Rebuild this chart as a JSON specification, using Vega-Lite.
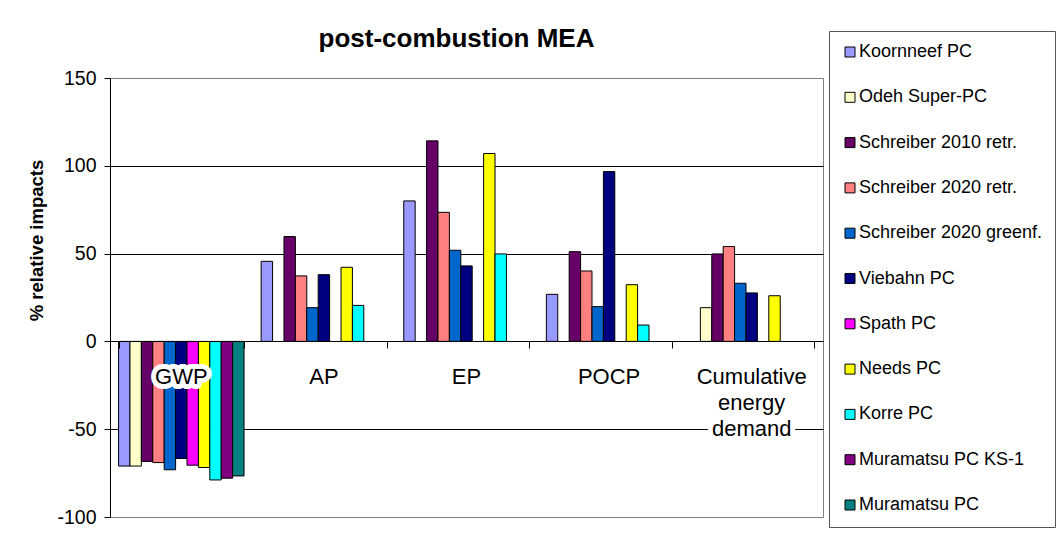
{
  "$schema": "https://vega.github.io/schema/vega-lite/v6.json",
  "autosize": {"type": "none"},
  "padding": {"left": 110, "top": 78, "right": 234, "bottom": 22},
  "width": 713,
  "height": 439,
  "background": "white",
  "config": {
    "font": "Liberation Sans",
    "view": {"stroke": "#808080", "strokeWidth": 1}
  },
  "title": {
    "text": "post-combustion MEA",
    "font": "Liberation Sans",
    "fontSize": 26,
    "fontWeight": "bold",
    "color": "black",
    "anchor": "middle",
    "baseline": "alphabetic",
    "dx": -10,
    "dy": 42,
    "offset": 0
  },
  "datasets": {
    "bars": [
      {"category": "GWP", "series": "Koornneef PC", "value": -71},
      {"category": "GWP", "series": "Odeh Super-PC", "value": -71},
      {"category": "GWP", "series": "Schreiber 2010 retr.", "value": -68.4},
      {"category": "GWP", "series": "Schreiber 2020 retr.", "value": -69},
      {"category": "GWP", "series": "Schreiber 2020 greenf.", "value": -73.1},
      {"category": "GWP", "series": "Viebahn PC", "value": -66.7},
      {"category": "GWP", "series": "Spath PC", "value": -70.5},
      {"category": "GWP", "series": "Needs PC", "value": -71.8},
      {"category": "GWP", "series": "Korre PC", "value": -78.9},
      {"category": "GWP", "series": "Muramatsu PC KS-1", "value": -77.9},
      {"category": "GWP", "series": "Muramatsu PC", "value": -76.6},
      {"category": "AP", "series": "Koornneef PC", "value": 45.6},
      {"category": "AP", "series": "Schreiber 2010 retr.", "value": 59.7},
      {"category": "AP", "series": "Schreiber 2020 retr.", "value": 37.3},
      {"category": "AP", "series": "Schreiber 2020 greenf.", "value": 19.2},
      {"category": "AP", "series": "Viebahn PC", "value": 38},
      {"category": "AP", "series": "Needs PC", "value": 42.2},
      {"category": "AP", "series": "Korre PC", "value": 20.5},
      {"category": "EP", "series": "Koornneef PC", "value": 80},
      {"category": "EP", "series": "Schreiber 2010 retr.", "value": 114.2},
      {"category": "EP", "series": "Schreiber 2020 retr.", "value": 73.5},
      {"category": "EP", "series": "Schreiber 2020 greenf.", "value": 51.9},
      {"category": "EP", "series": "Viebahn PC", "value": 43},
      {"category": "EP", "series": "Needs PC", "value": 107},
      {"category": "EP", "series": "Korre PC", "value": 49.8},
      {"category": "POCP", "series": "Koornneef PC", "value": 26.8},
      {"category": "POCP", "series": "Schreiber 2010 retr.", "value": 51.1},
      {"category": "POCP", "series": "Schreiber 2020 retr.", "value": 40.1},
      {"category": "POCP", "series": "Schreiber 2020 greenf.", "value": 19.8},
      {"category": "POCP", "series": "Viebahn PC", "value": 96.7},
      {"category": "POCP", "series": "Needs PC", "value": 32.3},
      {"category": "POCP", "series": "Korre PC", "value": 9.3},
      {"category": "Cumulative energy demand", "series": "Odeh Super-PC", "value": 19.2},
      {"category": "Cumulative energy demand", "series": "Schreiber 2010 retr.", "value": 49.8},
      {"category": "Cumulative energy demand", "series": "Schreiber 2020 retr.", "value": 54},
      {"category": "Cumulative energy demand", "series": "Schreiber 2020 greenf.", "value": 33.1},
      {"category": "Cumulative energy demand", "series": "Viebahn PC", "value": 27.6},
      {"category": "Cumulative energy demand", "series": "Needs PC", "value": 26}
    ],
    "labels": [
      {"category": "GWP", "label": "GWP"},
      {"category": "AP", "label": "AP"},
      {"category": "EP", "label": "EP"},
      {"category": "POCP", "label": "POCP"},
      {"category": "Cumulative energy demand", "label": "Cumulative\nenergy\ndemand"}
    ]
  },
  "encoding": {
    "x": {
      "field": "category",
      "type": "nominal",
      "sort": ["GWP", "AP", "EP", "POCP", "Cumulative energy demand"],
      "scale": {"paddingInner": 0.12, "paddingOuter": 0.06},
      "axis": {
        "title": null,
        "labels": false,
        "ticks": true,
        "tickBand": "extent",
        "tickSize": 7,
        "tickColor": "black",
        "domain": true,
        "domainColor": "black",
        "grid": false,
        "offset": -176,
        "zindex": 1
      }
    }
  },
  "layer": [
    {
      "data": {"name": "bars"},
      "mark": {"type": "bar", "stroke": "black", "strokeWidth": 1},
      "encoding": {
        "xOffset": {
          "field": "series",
          "type": "nominal",
          "sort": ["Koornneef PC", "Odeh Super-PC", "Schreiber 2010 retr.", "Schreiber 2020 retr.", "Schreiber 2020 greenf.", "Viebahn PC", "Spath PC", "Needs PC", "Korre PC", "Muramatsu PC KS-1", "Muramatsu PC"],
          "scale": {"paddingInner": 0, "paddingOuter": 0}
        },
        "y": {
          "field": "value",
          "type": "quantitative",
          "scale": {"domain": [-100, 150], "nice": false, "zero": false},
          "axis": {
            "title": "% relative impacts",
            "titleFont": "Liberation Sans",
            "titleFontSize": 18.5,
            "titleFontWeight": "bold",
            "titleColor": "black",
            "titlePadding": 10,
            "titleY": 162,
            "values": [-100, -50, 0, 50, 100, 150],
            "labelExpr": "'' + datum.value",
            "labelFont": "Liberation Sans",
            "labelFontSize": 19.5,
            "labelColor": "black",
            "labelPadding": 8,
            "tickSize": 6,
            "tickColor": "black",
            "domainColor": "black",
            "grid": true,
            "gridColor": {
              "condition": {"test": "datum.value == 150 || datum.value == -100", "value": "#808080"},
              "value": "black"
            },
            "gridOpacity": 1
          }
        },
        "fill": {
          "field": "series",
          "type": "nominal",
          "scale": {
            "domain": ["Koornneef PC", "Odeh Super-PC", "Schreiber 2010 retr.", "Schreiber 2020 retr.", "Schreiber 2020 greenf.", "Viebahn PC", "Spath PC", "Needs PC", "Korre PC", "Muramatsu PC KS-1", "Muramatsu PC"],
            "range": ["#9999FF", "#FFFFCC", "#660066", "#FF8080", "#0066CC", "#000080", "#FF00FF", "#FFFF00", "#00FFFF", "#800080", "#008080"]
          },
          "legend": {
            "title": null,
            "orient": "none",
            "legendX": 719,
            "legendY": -47,
            "padding": 12,
            "strokeColor": "#555555",
            "fillColor": "white",
            "symbolType": "square",
            "symbolSize": 100,
            "symbolStrokeColor": "black",
            "symbolStrokeWidth": 1,
            "symbolOpacity": 1,
            "labelFont": "Liberation Sans",
            "labelFontSize": 18,
            "labelColor": "black",
            "labelLimit": 400,
            "labelOffset": 0,
            "rowPadding": 27.3
          }
        }
      }
    },
    {
      "data": {"name": "labels"},
      "mark": {
        "type": "text",
        "font": "Liberation Sans",
        "fontSize": 22,
        "baseline": "alphabetic",
        "align": "center",
        "lineBreak": "\n",
        "lineHeight": 26,
        "dy": 43,
        "fill": "white",
        "stroke": "white",
        "strokeWidth": 10,
        "strokeJoin": "round"
      },
      "encoding": {
        "y": {"datum": 0, "type": "quantitative"},
        "text": {"field": "label"}
      }
    },
    {
      "data": {"name": "labels"},
      "mark": {
        "type": "text",
        "font": "Liberation Sans",
        "fontSize": 22,
        "baseline": "alphabetic",
        "align": "center",
        "lineBreak": "\n",
        "lineHeight": 26,
        "dy": 43,
        "fill": "black"
      },
      "encoding": {
        "y": {"datum": 0, "type": "quantitative"},
        "text": {"field": "label"}
      }
    }
  ]
}
